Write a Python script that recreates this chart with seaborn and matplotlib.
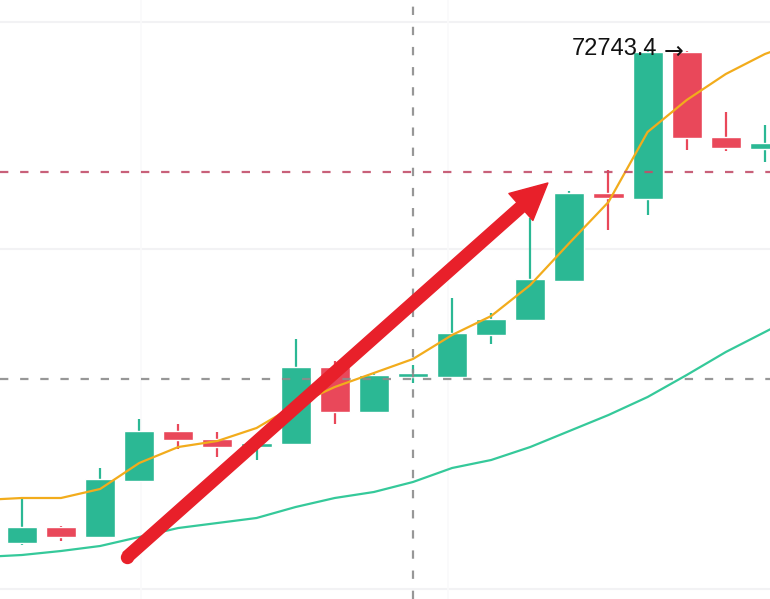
import matplotlib
matplotlib.use("Agg")
import matplotlib.pyplot as plt
import seaborn as sns
from matplotlib.patches import FancyArrowPatch


# candles (BTC daily)
opens = [57491, 57987, 57677, 59413, 60963, 60715, 60467, 60560, 62947, 61552,
         62637, 62637, 63939, 64404, 65613, 68341, 68155, 72700, 70077, 69705]
highs = [58855, 58018, 59816, 61335, 61180, 60932, 60620, 63815, 63133, 62720,
         63009, 65086, 64621, 67566, 68403, 69054, 72743.4, 72743.4, 70852, 70449]
lows = [57429, 57553, 57650, 59400, 60405, 60157, 60064, 60530, 61180, 61530,
        62451, 62610, 63660, 64380, 65590, 67194, 67659, 69674, 69643, 69302]
closes = [57987, 57677, 59475, 60963, 60684, 60467, 60591, 62947, 61552, 62699,
          62761, 64001, 64435, 65675, 68341, 68186, 72700, 70046, 69736, 69891]

# moving averages, from one bar before the first candle to one after the last
ma_days = list(range(-1, 21))
ma_fast = [58824, 58886, 58886, 59165, 59971, 60467, 60653, 61056, 61769, 62327, 62761,
           63195, 63939, 64528, 65489, 66791, 68062, 70232, 71224, 72030, 72650, 73084]
ma_slow = [57057, 57119, 57243, 57398, 57677, 57956, 58111, 58266, 58607, 58886, 59072,
           59382, 59816, 60064, 60467, 60963, 61459, 62017, 62699, 63412, 64032, 64652]

# reference levels
grid_levels = [73642, 66605, 56065]
old_high = 68992
mid_level = 62575
mid_day = 10
peak_label = "72743.4"

# hand-drawn trend arrow (day, price)
arrow_start = (2.69, 57057)
arrow_end = (13.45, 68651)

UP = "#2bb894"
DOWN = "#e9485a"


def main():
    sns.set_style("white")
    plt.rcParams["lines.scale_dashes"] = False

    fig = plt.figure(figsize=(7.7, 5.99), dpi=100)
    ax = fig.add_axes([0, 0, 1, 1])
    ax.set_xlim(-0.56, 19.13)
    ax.set_ylim(55755, 74324)
    ax.axis("off")

    for lvl in grid_levels:
        ax.axhline(lvl, color="#f2f2f4", lw=1.5, zorder=0)
    for d in [3.05, 10.9]:
        ax.axvline(d, color="#fafafb", lw=1.2, zorder=0)

    # slow MA under the candles
    sns.lineplot(x=ma_days, y=ma_slow, ax=ax, color="#35c99a", lw=1.6, zorder=1)

    days = list(range(len(opens)))
    for d, o, h, l, c in zip(days, opens, highs, lows, closes):
        col = UP if c >= o else DOWN
        ax.vlines(d, l, h, color=col, lw=1.6, zorder=2)
        ax.bar(d, max(abs(c - o), 60), bottom=min(o, c), width=0.77,
               color=col, zorder=2)

    # fast MA over the candles
    sns.lineplot(x=ma_days, y=ma_fast, ax=ax, color="#f2ac1c", lw=1.6, zorder=3)

    ax.axhline(old_high, color="#c24f6a", lw=1.6, ls=(0, (6, 8.5)), alpha=0.9, zorder=4)
    ax.axhline(mid_level, color="#8c8c8c", lw=1.6, ls=(0, (6, 8.5)), alpha=0.9, zorder=4)
    ax.axvline(mid_day, color="#8c8c8c", lw=1.6, ls=(0, (6, 8.5)), alpha=0.9, zorder=4)

    peak = float(peak_label)
    ax.text(16.25, peak + 60, peak_label, ha="right", va="center",
            fontsize=17, family=["Liberation Sans", "DejaVu Sans"], color="#111111",
            zorder=5)
    ax.text(16.4, peak - 40, "\u2192", ha="left", va="center",
            fontsize=17, family="DejaVu Sans", color="#111111", zorder=5)

    arrow = FancyArrowPatch(arrow_start, arrow_end,
                            arrowstyle="simple,head_width=2.6,head_length=2.6,tail_width=0.86",
                            mutation_scale=10, color="#e8202a", shrinkA=0, shrinkB=0,
                            zorder=6)
    ax.add_patch(arrow)
    ax.plot(*arrow_start, "o", ms=8.6, color="#e8202a", zorder=6)

    fig.savefig("out.png", dpi=100)


if __name__ == "__main__":
    main()
